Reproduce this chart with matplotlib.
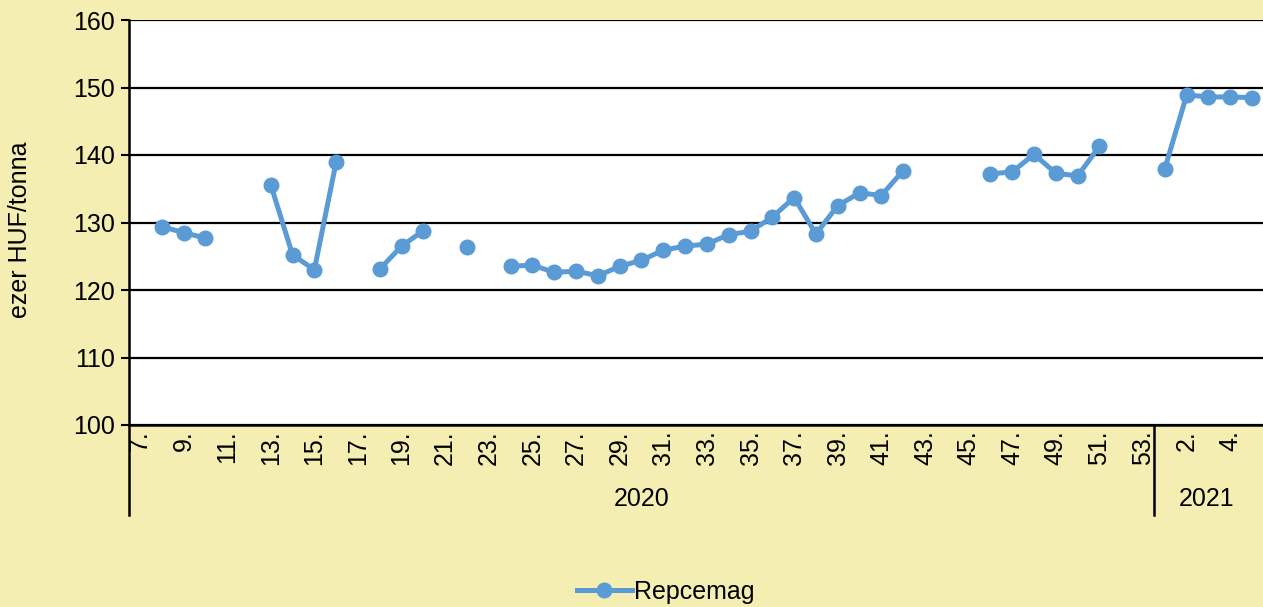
import numpy as np
import matplotlib
matplotlib.use("Agg")
import matplotlib.pyplot as plt
import matplotlib.transforms as mtransforms

plt.rcParams["font.family"] = ["Liberation Sans", "DejaVu Sans"]

# weeks: 2020 week 7..53, then 2021 week 1..5
weeks_2020 = list(range(7, 54))
weeks_2021 = list(range(1, 6))
nan = np.nan
values_2020 = [
    nan, 129.4, 128.5, 127.7, nan, nan, 135.6, 125.2, 123.0, 139.0,   # 7-16
    nan, 123.1, 126.5, 128.8, nan, 126.4, nan, 123.5, 123.7, 122.6,   # 17-26
    122.8, 122.1, 123.5, 124.4, 125.9, 126.5, 126.8, 128.2, 128.7, 130.8,  # 27-36
    133.7, 128.3, 132.5, 134.4, 134.0, 137.7, nan, nan, nan, 137.2,   # 37-46
    137.5, 140.1, 137.3, 136.9, 141.3, nan, nan,                      # 47-53
]
values_2021 = [138.0, 148.9, 148.6, 148.6, 148.5]
series_name = "Repcemag"
ylabel = "ezer HUF/tonna"

labels = [f"{w}." for w in weeks_2020] + [f"{w}." for w in weeks_2021]
values = np.array(values_2020 + values_2021, dtype=float)
x = np.arange(len(values))

bg = "#F4EEB2"
blue = "#5B9BD5"
fs = 18

W, H = 1263, 607
fig = plt.figure(figsize=(W / 100, H / 100), dpi=100, facecolor=bg)
ax = fig.add_axes([129 / W, 1 - 425 / H, 1 - 129 / W, (425 - 20) / H])
ax.set_facecolor("white")

ax.plot(x, values, color=blue, lw=3.6, marker="o", ms=10.5, label=series_name,
        zorder=3)

ax.set_xlim(-0.5, len(values) - 0.5)
ax.set_ylim(100, 160)
ax.set_yticks(range(100, 161, 10))
ax.yaxis.grid(True, color="black", lw=1.6)
ax.set_axisbelow(True)
ax.tick_params(axis="y", labelsize=fs, length=6, width=1.5, direction="out", pad=4)

ax.set_xticks(x[::2])
ax.set_xticklabels(labels[::2], rotation=90, fontsize=fs, va="top")
ax.tick_params(axis="x", length=0, pad=4)

for s in ["top", "right"]:
    ax.spines[s].set_visible(False)
ax.spines["left"].set_linewidth(1.8)
ax.spines["bottom"].set_linewidth(1.8)

# year group labels and separators
trans = mtransforms.blended_transform_factory(ax.transData, ax.transAxes)
n20 = len(weeks_2020)
for xs in [-0.5, n20 - 0.5]:
    ax.plot([xs, xs], [0, -90 / 405], color="black", lw=1.8, transform=trans,
            clip_on=False)
ax.text((n20 - 1) / 2, -74 / 405, "2020", transform=trans, ha="center",
        va="center", fontsize=fs)
ax.text(n20 + (len(weeks_2021) - 1) / 2 - 0.1, -74 / 405, "2021", transform=trans,
        ha="center", va="center", fontsize=fs)

fig.text(20 / W, 1 - 230 / H, ylabel, rotation=90, ha="center", va="center",
         fontsize=fs)

fig.legend(loc="center", bbox_to_anchor=(0.527, 1 - 592 / H), frameon=False,
           fontsize=fs, handlelength=2.2, handletextpad=0.1)

fig.savefig("out.png", dpi=100, facecolor=bg)
